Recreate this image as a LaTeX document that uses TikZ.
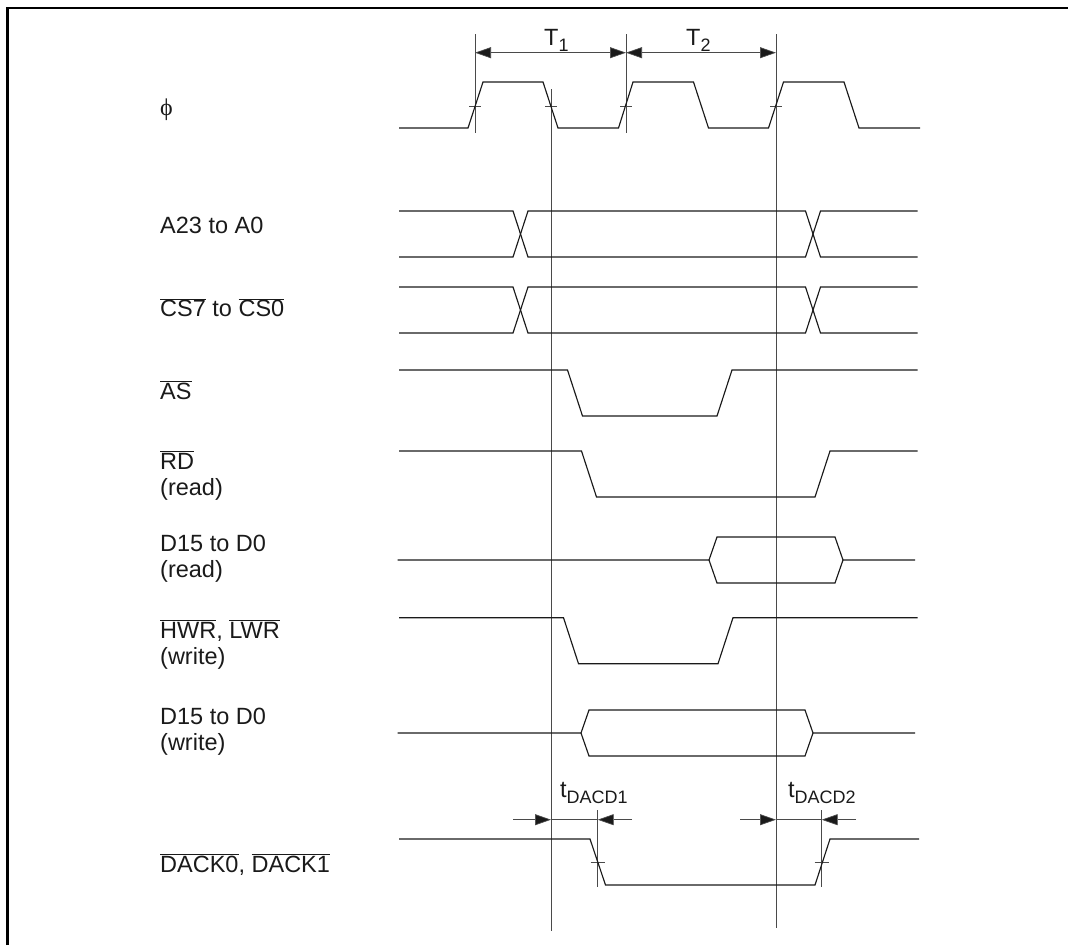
\documentclass[tikz,border=0pt]{standalone}
\usepackage{fontspec}
\setmainfont{Liberation Sans}
\newfontfamily\symfont{Liberation Serif}
\usepackage{xcolor}
\usetikzlibrary{arrows.meta,calc,positioning}
\definecolor{InkBlack}{HTML}{1A1A1A}
\definecolor{RuleGrey}{HTML}{4A4A4A}
\tikzset{
  wave/.style={line width=1.15pt,InkBlack,line join=miter},
  guide/.style={line width=0.9pt,RuleGrey},
  dimline/.style={line width=0.7pt,RuleGrey},
  siglabel/.style={anchor=base west,inner sep=0pt,align=left,font=\fontsize{23.5}{26}\selectfont,text=InkBlack},
  dimlabel/.style={anchor=base west,inner sep=0pt,font=\fontsize{23.5}{26}\selectfont,text=InkBlack},
}
\newcommand{\ovl}[1]{$\overline{\mbox{#1}}$}
\newcommand{\lowsub}[1]{\raisebox{-6pt}{\fontsize{18}{18}\selectfont #1}}
\begin{document}
\begin{tikzpicture}[x=1pt,y=-1pt,>={Triangle[length=16pt,width=11pt,fill=InkBlack]}]
  \useasboundingbox (0,0) rectangle (1068,945);
  % frame
  \draw[line width=2.2pt,black] (7.5,945)--(7.5,7.8)--(1068,7.8);
  % guide lines
  \coordinate (tA) at (475,34); \coordinate (tAend) at (475,133);
  \coordinate (tB) at (626,34); \coordinate (tBend) at (626,133);
  \coordinate (tC) at (776,34); \coordinate (tCend) at (776,928);
  \coordinate (tF) at (551,89); \coordinate (tFend) at (551,931);
  \coordinate (tG) at (597.7,810); \coordinate (tGend) at (597.7,887);
  \coordinate (tH) at (821.7,810); \coordinate (tHend) at (821.7,887);
  \foreach \a/\b in {tA/tAend,tB/tBend,tC/tCend,tF/tFend,tG/tGend,tH/tHend}{\draw[guide] (\a)--(\b);}
  % clock ticks
  \foreach \x in {475,551,626,776}{\draw[dimline] (\x-6,106)--(\x+6,106);}
  \foreach \x in {597.7,821.7}{\draw[dimline] (\x-7,862.5)--(\x+7,862.5);}
  % clock
  \draw[wave] (399,128)--(468,128)--(483,82)--(543,82)--(558,128)--(618.5,128)--(633,82)--(693.5,82)--(708.5,128)
    --(768.5,128)--(783.5,82)--(844,82)--(859,128)--(920,128);
  % address busses
  \foreach \yt in {211,287}{
    \draw[wave] (399,\yt)--(513,\yt)--(528,\yt+46)--(805.5,\yt+46)--(820.5,\yt)--(917.5,\yt);
    \draw[wave] (399,\yt+46)--(513,\yt+46)--(528,\yt)--(805.5,\yt)--(820.5,\yt+46)--(917.5,\yt+46);
  }
  % strobes
  \foreach \yt/\xa/\xb in {370/567.5/717,451/581.5/815,617.7/563.5/718}{
    \draw[wave] (399,\yt)--(\xa,\yt)--(\xa+15,\yt+46)--(\xb,\yt+46)--(\xb+15,\yt)--(917.5,\yt);
  }
  % data
  \foreach \ym/\xa/\xb in {560/709/835,733/581/805}{
    \draw[wave] (397.5,\ym)--(\xa,\ym)--(\xa+8,\ym-23)--(\xb,\ym-23)--(\xb+8,\ym)--(915,\ym);
    \draw[wave] (\xa,\ym)--(\xa+8,\ym+23)--(\xb,\ym+23)--(\xb+8,\ym);
  }
  % dack
  \draw[wave] (399,839)--(590,839)--(605.5,885)--(815,885)--(830,839)--(919,839);
  % dimensions
  \coordinate (dimA) at (475,52.7); \coordinate (dimB) at (626,52.7); \coordinate (dimC) at (776,52.7);
  \draw[dimline,<->] (dimA)--(dimB);
  \draw[dimline,<->] (dimB)--(dimC);
  \node[dimlabel] (labT1) at (544,45) {T\lowsub{1}};
  \node[dimlabel] (labT2) at (686,45) {T\lowsub{2}};
  \coordinate (dackA) at (551,819.7); \coordinate (dackB) at (597.7,819.7);
  \coordinate (dackC) at (776,819.7); \coordinate (dackD) at (821.7,819.7);
  \coordinate (freeA) at (513,819.7); \coordinate (freeB) at (632,819.7);
  \coordinate (freeC) at (740,819.7); \coordinate (freeD) at (856,819.7);
  \draw[dimline,->] (freeA)--(dackA);
  \draw[dimline] (dackA)--(dackB);
  \draw[dimline,->] (freeB)--(dackB);
  \draw[dimline,->] (freeC)--(dackC);
  \draw[dimline] (dackC)--(dackD);
  \draw[dimline,->] (freeD)--(dackD);
  \node[dimlabel] (labD1) at (560,797) {t\lowsub{DACD1}};
  \node[dimlabel] (labD2) at (788,797) {t\lowsub{DACD2}};
  % signal names
  \node[siglabel,font=\fontsize{24}{26}\symfont] (labPhi) at (160,115) {ϕ};
  \node[siglabel] (labA) at (160,233) {A23 to A0};
  \node[siglabel] (labCS) at (160,316.7) {\ovl{CS7} to \ovl{CS0}};
  \node[siglabel] (labAS) at (160,399) {\ovl{AS}};
  \node[siglabel] (labRD) at (160,495) {\ovl{RD}\\(read)};
  \node[siglabel] (labDr) at (160,577) {D15 to D0\\(read)};
  \node[siglabel] (labWR) at (160,664) {\ovl{HWR}, \ovl{LWR}\\(write)};
  \node[siglabel] (labDw) at (160,750) {D15 to D0\\(write)};
  \node[siglabel] (labDK) at (160,872.3) {\ovl{DACK0}, \ovl{DACK1}};
\end{tikzpicture}
\end{document}
